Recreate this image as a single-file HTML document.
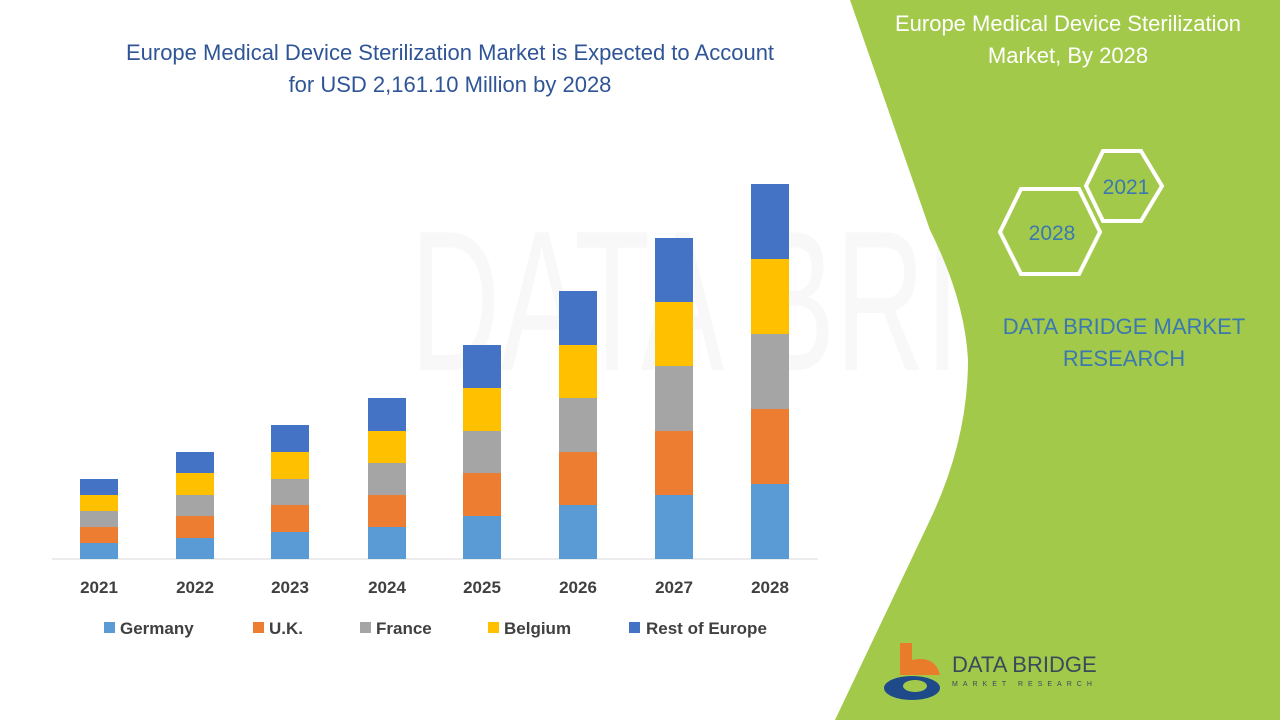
<!DOCTYPE html>
<html><head><meta charset="utf-8"><style>
body{margin:0;width:1280px;height:720px;overflow:hidden;background:#fff;font-family:"Liberation Sans",sans-serif;}
</style></head><body>
<svg width="1280" height="720" xmlns="http://www.w3.org/2000/svg" style="position:absolute;left:0;top:0">
<text x="410" y="370" font-size="200" fill="#f8f8f8" font-family="Liberation Sans Narrow, Liberation Sans" transform="scale(1,1)" textLength="820" lengthAdjust="spacingAndGlyphs">DATA BRIDGE</text>
<path d="M850,0 L1280,0 L1280,720 L835,720 L930,520 Q968,440 968,360 Q965,300 930,230 Z" fill="#a3c94b"/>
<text x="1068" y="31" font-size="22" fill="#fff" text-anchor="middle">Europe Medical Device Sterilization</text>
<text x="1068" y="63" font-size="22" fill="#fff" text-anchor="middle">Market, By 2028</text>
<polygon points="1103,151 1141,151 1162,186 1141,221 1103,221 1086,186" fill="none" stroke="#fff" stroke-width="4"/>
<polygon points="1021,189 1079,189 1100,232 1079,274 1021,274 1000,232" fill="none" stroke="#fff" stroke-width="4"/>
<text x="1126" y="194" font-size="21" fill="#3b78b0" text-anchor="middle">2021</text>
<text x="1052" y="240" font-size="21" fill="#3b78b0" text-anchor="middle">2028</text>
<text x="1124" y="334" font-size="22" fill="#3b78b0" text-anchor="middle">DATA BRIDGE MARKET</text>
<text x="1124" y="366" font-size="22" fill="#3b78b0" text-anchor="middle">RESEARCH</text>
<path d="M900,643 L912,643 L912,660 Q935,655 940,675 L900,675 Z" fill="#e87c2a"/>
<ellipse cx="912" cy="688" rx="28" ry="12" fill="#1f4a8a"/>
<ellipse cx="915" cy="686" rx="12" ry="6" fill="#a3c94b"/>
<text x="952" y="672" font-size="22" fill="#3a4a5a">DATA BRIDGE</text>
<text x="952" y="686" font-size="7" fill="#3a4a5a" letter-spacing="5">MARKET RESEARCH</text>
<text x="450" y="60" font-size="22" fill="#2f5597" text-anchor="middle">Europe Medical Device Sterilization Market is Expected to Account</text>
<text x="450" y="92" font-size="22" fill="#2f5597" text-anchor="middle">for USD 2,161.10 Million by 2028</text>
<line x1="52" y1="559" x2="818" y2="559" stroke="#d9d9d9" stroke-width="1"/>
<g id="bars"></g>
<g font-size="17" font-weight="bold" fill="#404040" text-anchor="middle">
<text x="99" y="593">2021</text><text x="195" y="593">2022</text><text x="290" y="593">2023</text><text x="387" y="593">2024</text><text x="482" y="593">2025</text><text x="578" y="593">2026</text><text x="674" y="593">2027</text><text x="770" y="593">2028</text>
</g>
<g font-size="17" font-weight="bold" fill="#404040">
<rect x="104" y="622" width="11" height="11" fill="#5b9bd5"/><text x="120" y="634">Germany</text>
<rect x="253" y="622" width="11" height="11" fill="#ed7d31"/><text x="269" y="634">U.K.</text>
<rect x="360" y="622" width="11" height="11" fill="#a5a5a5"/><text x="376" y="634">France</text>
<rect x="488" y="622" width="11" height="11" fill="#ffc000"/><text x="504" y="634">Belgium</text>
<rect x="629" y="622" width="11" height="11" fill="#4472c4"/><text x="646" y="634">Rest of Europe</text>
</g>
</svg>
<script>
var d=[[99,[543,527,511,495,479]],[195,[538,516,495,473,452]],[290,[532,505,479,452,425]],[387,[527,495,463,431,398]],[482,[516,473,431,388,345]],[578,[505,452,398,345,291]],[674,[495,431,366,302,238]],[770,[484,409,334,259,184]]];
var c=["#5b9bd5","#ed7d31","#a5a5a5","#ffc000","#4472c4"];var g=document.getElementById("bars");var s="";
d.forEach(function(b){var prev=559;b[1].forEach(function(y,i){s+='<rect x="'+(b[0]-19)+'" y="'+y+'" width="38" height="'+(prev-y)+'" fill="'+c[i]+'"/>';prev=y;});});
g.innerHTML=s;
</script>
</body></html>
